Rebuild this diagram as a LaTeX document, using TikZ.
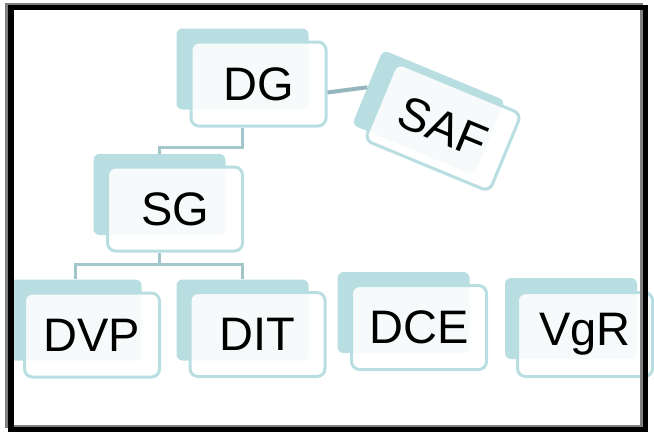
\documentclass[tikz,border=0pt]{standalone}
\usepackage{fontspec}
\setmainfont{Liberation Sans}
\definecolor{tealA}{RGB}{184,222,226}
\definecolor{connA}{RGB}{163,198,202}
\definecolor{connB}{RGB}{148,182,188}
\definecolor{frameG}{RGB}{128,128,128}
\begin{document}
\begin{tikzpicture}[x=1pt,y=-1pt,
  shadowbox/.style={fill=tealA, rounded corners=6pt, minimum width=132pt, minimum height=81pt, inner sep=0pt},
  frontbox/.style={draw=tealA, line width=3pt, fill=white, fill opacity=0.88, text opacity=1,
    rounded corners=8pt, minimum width=135pt, minimum height=84pt, inner sep=0pt,
    font=\fontsize{47}{56}\selectfont},
  treeline/.style={draw=connA, line width=3pt},
  sideline/.style={draw=connB, line width=4pt},
  ]
\useasboundingbox (0,0) rectangle (654,434);
% shadows
\node[shadowbox] (dgs) at (242.5,69) {};
\node[shadowbox] (sgs) at (159.5,194.5) {};
\node[shadowbox] (dvps) at (75.5,320) {};
\node[shadowbox] (dits) at (242.5,320) {};
\node[shadowbox] (dces) at (403.5,312.5) {};
\node[shadowbox] (vgrs) at (571,318.5) {};
\node[shadowbox, rotate=-22.5] (safs) at (428.5,112.6) {};
% front boxes
\node[frontbox] (dg) at (258.5,84) {DG};
\node[frontbox] (sg) at (175,209) {SG};
\node[frontbox] (dvp) at (92,335) {DVP};
\node[frontbox] (dit) at (257.5,334.5) {DIT};
\node[frontbox] (dce) at (419,327.5) {DCE};
\node[frontbox] (vgr) at (585,334.5) {VgR};
\node[frontbox, rotate=-22.5] (saf) at (443,127) {SAF};
% connectors
\draw[sideline] (dg.-7) -- (safs.west);
\draw[treeline] (dgs.south |- dg.south) -- ++(0,20) -| (sgs.north);
\draw[treeline] (sgs.south |- sg.south) -- ++(0,12.5);
\draw[treeline] (dvps.north) -- ++(0,-15) -| (dits.north);
% frame
\draw[frameG, line width=3pt] (6,4) rectangle (641.5,426);
\draw[black, line width=5.5pt] (11,7.5) rectangle (645.5,429.5);
\end{tikzpicture}
\end{document}
